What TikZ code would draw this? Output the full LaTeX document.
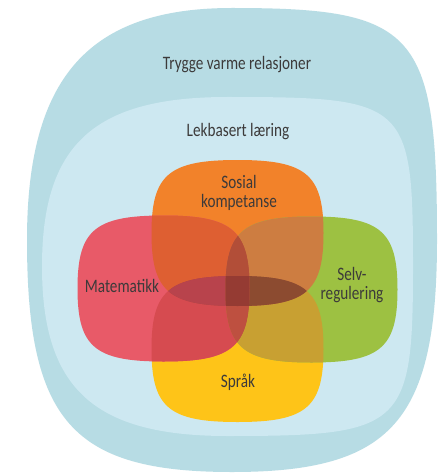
\documentclass[tikz,border=0pt]{standalone}
\usepackage{fontspec}
\setmainfont{Carlito}[FakeStretch=0.8]
\usepackage{tikz}

\definecolor{ytre}{HTML}{B7DCE4}
\definecolor{indre}{HTML}{CDE8F1}
\definecolor{oransje}{HTML}{F2822A}
\definecolor{rosa}{HTML}{E85A68}
\definecolor{gronn}{HTML}{9DC142}
\definecolor{gul}{HTML}{FEC418}
\definecolor{OR}{HTML}{DE5F32}
\definecolor{OG}{HTML}{CD7D41}
\definecolor{YR}{HTML}{D64B50}
\definecolor{YG}{HTML}{C8A032}
\definecolor{OY}{HTML}{A8473F}
\definecolor{RG}{HTML}{B84C3A}
\definecolor{OYR}{HTML}{B8434C}
\definecolor{OYG}{HTML}{8C4B30}
\definecolor{ORG}{HTML}{B24E38}
\definecolor{YRG}{HTML}{BE5040}
\definecolor{alle}{HTML}{953B33}
\definecolor{tekst}{HTML}{3C3A3A}

% centre x, centre y, half width, half height, corner factors tl tr br bl
\newcommand{\blob}[8]{(#1,#2-#4) .. controls (#1+#6*#3,#2-#4) and (#1+#3,#2-#6*#4) .. (#1+#3,#2)
    .. controls (#1+#3,#2+#7*#4) and (#1+#7*#3,#2+#4) .. (#1,#2+#4)
    .. controls (#1-#8*#3,#2+#4) and (#1-#3,#2+#8*#4) .. (#1-#3,#2)
    .. controls (#1-#3,#2-#5*#4) and (#1-#5*#3,#2-#4) .. (#1,#2-#4) -- cycle}
\newcommand{\petal}[2]{\blob{#1}{#2}{86}{73}{.8}{.8}{.8}{.8}}
\newcommand{\sosial}{\petal{237.5}{233}}
\newcommand{\sprak}{\petal{237.5}{349}}
\newcommand{\matte}{\petal{163.5}{288.5}}
\newcommand{\selv}{\petal{311.5}{289.5}}
\newcommand{\two}[3]{\begin{scope}\clip #1;\fill[#3] #2;\end{scope}}
\newcommand{\three}[4]{\begin{scope}\clip #1;\clip #2;\fill[#4] #3;\end{scope}}

\begin{document}
\begin{tikzpicture}[x=1pt, y=-1pt,
    lbl/.style={text=tekst, font=\fontsize{19}{19}\selectfont, align=center, inner sep=0pt}]
    \fill[white] (0,0) rectangle (435,473);
    \fill[ytre] \blob{232}{240}{205}{232}{.7}{.9}{.78}{.78};
    \fill[indre] \blob{227.5}{266.5}{185.5}{169.5}{.72}{.97}{.95}{.72};
    \fill[oransje] \sosial;
    \fill[gul] \sprak;
    \fill[rosa] \matte;
    \fill[gronn] \selv;
    \two{\sosial}{\matte}{OR}
    \two{\sosial}{\selv}{OG}
    \two{\sprak}{\matte}{YR}
    \two{\sprak}{\selv}{YG}
    \two{\sosial}{\sprak}{OY}
    \two{\matte}{\selv}{RG}
    \three{\sosial}{\sprak}{\matte}{OYR}
    \three{\sosial}{\sprak}{\selv}{OYG}
    \three{\matte}{\selv}{\sosial}{ORG}
    \three{\matte}{\selv}{\sprak}{YRG}
    \begin{scope}
        \clip \sosial; \clip \sprak; \clip \matte;
        \fill[alle] \selv;
    \end{scope}
    \node[lbl] (trygge) at (237,65) {Trygge varme relasjoner};
    \node[lbl] (lek) at (238,132) {Lekbasert læring};
    \node[lbl] (sos) at (239,193) {Sosial\\kompetanse};
    \node[lbl] (mat) at (122,286) {Matematikk};
    \node[lbl] (sel) at (352,285) {Selv-\\regulering};
    \node[lbl] (spr) at (238,382) {Språk};
\end{tikzpicture}
\end{document}
